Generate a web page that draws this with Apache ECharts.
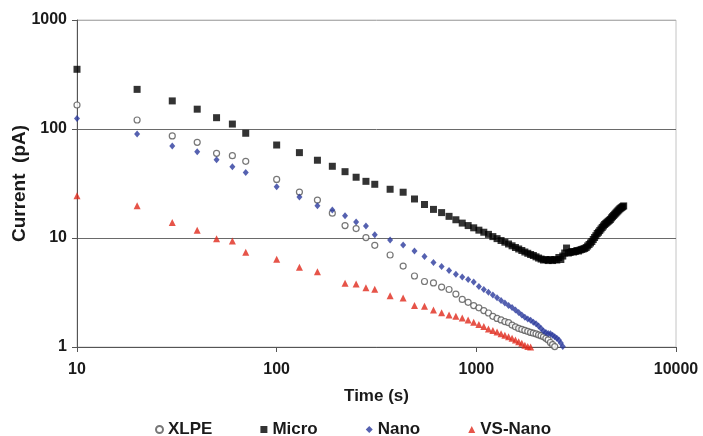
<!DOCTYPE html>
<html>
<head>
<meta charset="utf-8">
<script src="https://cdn.jsdelivr.net/npm/echarts@6/dist/echarts.min.js"></script>
<style>
  html, body { margin: 0; padding: 0; background: #fff; }
  #chart { width: 703px; height: 436px; }
</style>
</head>
<body>
<div id="chart"></div>
<script>
// Sampling times (s): every 10 s, then 30 s, then 60 s steps
const times = [10, 20, 30, 40, 50, 60, 70, 100, 130, 160, 190, 220, 250, 280, 310,
  370, 430, 490, 550, 610, 670, 730, 790, 850, 910, 970, 1030, 1090, 1150, 1210,
  1270, 1330, 1390, 1450, 1510, 1570, 1630, 1690, 1750, 1810, 1870, 1930, 1990, 2050,
  2110, 2170, 2230, 2290, 2350, 2410, 2470, 2530, 2590, 2650, 2710, 2770, 2830, 2890,
  2950, 3010, 3070, 3130, 3190, 3250, 3310, 3370, 3430, 3490, 3550, 3610, 3670, 3730,
  3790, 3850, 3910, 3970, 4030, 4090, 4150, 4210, 4270, 4330, 4390, 4450, 4510, 4570,
  4630, 4690, 4750, 4810, 4870, 4930, 4990, 5050, 5110, 5170, 5230, 5290, 5350, 5410, 5470];

// Current (pA) per material, aligned with the times above
const xlpe = [166, 121, 86.3, 75.5, 59.8, 56.9, 50.5, 34.5, 26.4, 22.3, 16.9, 13.0, 12.2, 10.1, 8.57,
  6.98, 5.53, 4.48, 3.99, 3.87, 3.55, 3.37, 3.06, 2.73, 2.57,
  2.40, 2.29, 2.16, 2.05, 1.91, 1.83, 1.77, 1.71, 1.67, 1.59,
  1.53, 1.48, 1.45, 1.42, 1.39, 1.36, 1.34, 1.32, 1.29, 1.27,
  1.24, 1.20, 1.16, 1.10, 1.05, 1.01];

const micro = [353, 231, 181, 152, 127, 111, 91.4, 71.3, 60.7, 51.7, 45.5, 40.6, 36.1, 33.1, 31.1,
  28.0, 26.3, 22.8, 20.3, 18.3, 17.1, 15.8, 14.7, 13.7, 13.0,
  12.4, 11.8, 11.3, 10.8, 10.3, 9.87, 9.48, 9.15, 8.81, 8.48,
  8.18, 7.93, 7.68, 7.44, 7.24, 7.06, 6.91, 6.72, 6.55, 6.41,
  6.28, 6.35, 6.21, 6.35, 6.21, 6.35, 6.28, 6.62, 6.35, 6.83,
  7.28, 8.09, 7.28, 7.36, 7.52, 7.44, 7.52, 7.68, 7.60, 7.76,
  7.85, 7.93, 8.02, 8.18, 8.45, 8.72, 9.00, 9.29, 9.69, 10.1,
  10.5, 11.0, 11.3, 11.7, 12.1, 12.5, 12.9, 13.3, 13.6, 13.9,
  14.2, 14.5, 14.8, 15.3, 15.7, 16.1, 16.5, 16.9, 17.3, 17.7,
  18.1, 18.5, 18.8, 19.1, 19.4, 19.7];

const nano = [125, 90.0, 69.8, 61.9, 52.3, 45.1, 40.0, 29.6, 23.8, 19.8, 18.1, 16.0, 14.0, 12.9, 10.7,
  9.60, 8.63, 7.60, 6.77, 5.96, 5.48, 5.04, 4.66, 4.39, 4.16,
  3.95, 3.59, 3.37, 3.18, 3.00, 2.83, 2.67, 2.53, 2.40, 2.30,
  2.18, 2.07, 1.97, 1.87, 1.81, 1.76, 1.69, 1.63, 1.56, 1.48,
  1.40, 1.36, 1.33, 1.32, 1.28, 1.24, 1.20, 1.16, 1.09, 1.01];

const vsNano = [24.4, 19.8, 13.9, 11.8, 9.86, 9.38, 7.39, 6.37, 5.38, 4.91, null, 3.84, 3.78, 3.50, 3.38,
  2.96, 2.82, 2.40, 2.36, 2.18, 2.06, 1.97, 1.91, 1.85, 1.77,
  1.69, 1.61, 1.54, 1.46, 1.42, 1.37, 1.32, 1.28, 1.24, 1.20,
  1.16, 1.12, 1.08, 1.04, 1.01, 1.00];

const seriesNames = ['XLPE', 'Micro', 'Nano', 'VS-Nano'];
const xTicks = [10, 100, 1000, 10000];
const yTicks = [1, 10, 100, 1000];

const FONT = '"Liberation Sans", Arial, sans-serif';

function pairs(vals) {
  const out = [];
  vals.forEach((v, i) => { if (v != null) out.push([times[i], v]); });
  return out;
}

const chart = echarts.init(document.getElementById('chart'), null, { renderer: 'canvas' });

const labelStyle = { fontFamily: FONT, fontWeight: 'bold', fontSize: 16, color: '#1a1a1a' };
const plainNumber = v => String(Math.round(v));

chart.setOption({
  animation: false,
  backgroundColor: '#ffffff',
  grid: {
    left: 77, right: 27, top: 20, bottom: 89,
    containLabel: false,
    outerBoundsMode: 'none',
    show: true, borderColor: '#c4c4c4', borderWidth: 1, backgroundColor: 'transparent'
  },
  legend: {
    data: seriesNames,
    left: 150,
    top: 416,
    itemWidth: 7,
    itemHeight: 7,
    itemGap: 48,
    textStyle: Object.assign({}, labelStyle, { fontSize: 17 })
  },
  xAxis: {
    type: 'log',
    logBase: 10,
    min: xTicks[0],
    max: xTicks[xTicks.length - 1],
    name: 'Time (s)',
    nameLocation: 'middle',
    nameGap: 41,
    nameMoveOverlap: false,
    nameTextStyle: Object.assign({}, labelStyle, { fontSize: 17 }),
    axisLine: { show: true, lineStyle: { color: '#555', width: 1 } },
    axisTick: { show: true, length: 5, lineStyle: { color: '#555' } },
    minorTick: { show: false },
    axisLabel: Object.assign({ margin: 15, formatter: plainNumber }, labelStyle),
    splitLine: { show: false }
  },
  yAxis: {
    type: 'log',
    logBase: 10,
    min: yTicks[0],
    max: yTicks[yTicks.length - 1],
    name: 'Current  (pA)',
    nameLocation: 'middle',
    nameGap: 48,
    nameMoveOverlap: false,
    nameRotate: 90,
    nameTextStyle: Object.assign({}, labelStyle, { fontSize: 19 }),
    axisLine: { show: true, lineStyle: { color: '#555', width: 1 } },
    axisTick: { show: true, length: 5, lineStyle: { color: '#555' } },
    axisLabel: Object.assign({ margin: 10, formatter: plainNumber }, labelStyle),
    splitLine: { show: true, lineStyle: { color: ['#666', '#6a6a6a', '#6a6a6a', '#b0b0b0'], width: 1 } }
  },
  series: [
    {
      name: seriesNames[0], type: 'scatter', data: pairs(xlpe),
      symbol: 'circle', symbolSize: 6, z: 3,
      itemStyle: { color: '#ffffff', borderColor: '#555555', borderWidth: 1.2 }
    },
    {
      name: seriesNames[1], type: 'scatter', data: pairs(micro),
      symbol: 'rect', symbolSize: 7, z: 2,
      itemStyle: { color: '#000000' }
    },
    {
      name: seriesNames[2], type: 'scatter', data: pairs(nano),
      symbol: 'diamond', symbolSize: [6, 7], z: 4,
      itemStyle: { color: '#2b3a9c' }
    },
    {
      name: seriesNames[3], type: 'scatter', data: pairs(vsNano),
      symbol: 'triangle', symbolSize: 7, z: 5,
      itemStyle: { color: '#e0291c' }
    }
  ]
});
</script>
</body>
</html>
